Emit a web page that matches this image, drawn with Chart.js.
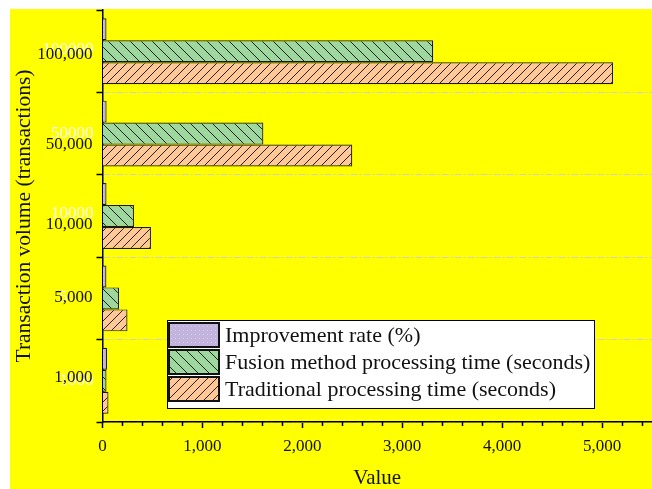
<!DOCTYPE html>
<html>
<head>
<meta charset="utf-8" />
<title>Transaction volume</title>
<script src="https://cdn.jsdelivr.net/npm/chart.js@4.4.0/dist/chart.umd.min.js"></script>
<style>
  body { margin: 0; background: #fff; }
  #wrap { position: absolute; left: 10px; top: 9px; width: 642px; height: 480px; background: #ffff00; }
</style>
</head>
<body>
<div id="wrap"><canvas id="chart" width="642" height="480"></canvas></div>
<script>
// data, top to bottom as drawn
const categories = ['100,000', '50,000', '10,000', '5,000', '1,000'];
const improvementRate = [40, 41, 40, 39, 45];
const fusionTime = [3310, 1610, 315, 165, 40];
const traditionalTime = [5110, 2500, 485, 250, 60];
const ghostLabels = ['100000', '50000', '10000', '5', '1000'];
const xTickValues = [0, 1000, 2000, 3000, 4000, 5000];
const seriesNames = ['Improvement rate (%)', 'Fusion method processing time (seconds)', 'Traditional processing time (seconds)'];

const serif = "'Liberation Serif', 'Times New Roman', serif";
Chart.defaults.font.family = serif;
Chart.defaults.color = '#111';

function hatch(bg, dir, size) {
  const c = document.createElement('canvas');
  c.width = c.height = size;
  const g = c.getContext('2d');
  g.fillStyle = bg;
  g.fillRect(0, 0, size, size);
  g.strokeStyle = '#222';
  g.lineWidth = 1;
  g.beginPath();
  if (dir === '/') {
    g.moveTo(0, size); g.lineTo(size, 0);
    g.moveTo(-1, 1); g.lineTo(1, -1);
    g.moveTo(size - 1, size + 1); g.lineTo(size + 1, size - 1);
  } else if (dir === '\\') {
    g.moveTo(0, 0); g.lineTo(size, size);
    g.moveTo(size - 1, -1); g.lineTo(size + 1, 1);
    g.moveTo(-1, size - 1); g.lineTo(1, size + 1);
  }
  g.stroke();
  return g.createPattern(c, 'repeat');
}
function dots(bg, dot) {
  const c = document.createElement('canvas');
  c.width = c.height = 4;
  const g = c.getContext('2d');
  g.fillStyle = bg; g.fillRect(0, 0, 4, 4);
  g.fillStyle = dot; g.fillRect(1, 1, 1, 1);
  return g.createPattern(c, 'repeat');
}

const purpleFill = dots('#c2b4dc', '#d6cce9');
const greenFill = hatch('#9fd89f', '\\', 11);
const orangeFill = hatch('#ffc896', '/', 9);
const fills = [purpleFill, greenFill, orangeFill];

// extras: y labels (with their odd offsets + white ghosts), minor ticks, inner legend
const extras = {
  id: 'extras',
  beforeDraw(chart) {
    const ctx = chart.ctx, y = chart.scales.y;
    const ghostShift = [-2, 0, -2, -1, 0];
    const labelShift = [3, 11, 9, -1, -3];
    ctx.save();
    ctx.font = '17px ' + serif;
    ctx.textAlign = 'right';
    ctx.textBaseline = 'middle';
    ghostLabels.forEach((t, i) => {
      const x = i === 3 ? y.right - 35 : y.right - 9;
      ctx.fillStyle = 'rgba(255,255,255,0.95)';
      ctx.fillText(t, x, y.getPixelForValue(i) + ghostShift[i]);
    });
    categories.forEach((t, i) => {
      ctx.fillStyle = '#111';
      ctx.fillText(t, y.right - 10, y.getPixelForValue(i) + labelShift[i]);
    });
    ctx.restore();
  },
  afterDraw(chart) {
    const ctx = chart.ctx, x = chart.scales.x;
    ctx.save();
    ctx.strokeStyle = '#000';
    ctx.lineWidth = 1.5;
    for (let v = 200; v <= 5400; v += 200) {
      if (v % 1000 === 0) continue;
      const px = Math.round(x.getPixelForValue(v)) + 0.5;
      ctx.beginPath();
      ctx.moveTo(px, x.top);
      ctx.lineTo(px, x.top + 4);
      ctx.stroke();
    }
    // legend box
    const bx = 157, by = 311, bw = 427, bh = 88;
    ctx.fillStyle = '#fff';
    ctx.fillRect(bx, by, bw, bh);
    ctx.strokeStyle = '#000';
    ctx.lineWidth = 1;
    ctx.strokeRect(bx + 0.5, by + 0.5, bw, bh);
    ctx.font = '22px ' + serif;
    ctx.textBaseline = 'middle';
    ctx.textAlign = 'left';
    seriesNames.forEach((name, i) => {
      const sy = by + 3 + i * 27;
      ctx.fillStyle = fills[i];
      ctx.fillRect(bx + 2, sy, 50, 24);
      ctx.lineWidth = 2;
      ctx.strokeStyle = '#111';
      ctx.strokeRect(bx + 2, sy, 50, 24);
      ctx.fillStyle = '#111';
      ctx.fillText(name, bx + 58, sy + 13);
    });
    ctx.restore();
  }
};

new Chart(document.getElementById('chart'), {
  type: 'bar',
  data: {
    labels: categories,
    datasets: [
      { label: seriesNames[0], data: improvementRate, backgroundColor: purpleFill },
      { label: seriesNames[1], data: fusionTime, backgroundColor: greenFill },
      { label: seriesNames[2], data: traditionalTime, backgroundColor: orangeFill }
    ]
  },
  options: {
    indexAxis: 'y',
    responsive: false,
    animation: false,
    events: [],
    layout: { padding: { top: 1, right: 0, left: 0, bottom: 0 } },
    datasets: {
      bar: { borderColor: '#1a1a1a', borderWidth: 1.2, barPercentage: 1, categoryPercentage: 0.8 }
    },
    plugins: { legend: { display: false }, tooltip: { enabled: false } },
    scales: {
      x: {
        min: 0,
        max: 5500,
        afterFit(s) { s.height = 67; s.paddingLeft = 0; s.paddingRight = 0; },
        afterBuildTicks(s) { s.ticks = xTickValues.map(v => ({ value: v })); },
        ticks: {
          padding: 8,
          font: { size: 17 },
          color: '#111',
          autoSkip: false,
          maxRotation: 0,
          callback: v => v.toLocaleString('en-US')
        },
        grid: { drawOnChartArea: false, tickLength: 6, tickColor: '#000', tickWidth: 1.5 },
        border: { color: '#000', width: 1.5 },
        title: { display: true, text: 'Value', font: { size: 21 }, color: '#111', padding: { top: 0, bottom: -2 } }
      },
      y: {
        afterFit(s) { s.width = 92.5; s.paddingTop = 0; s.paddingBottom = 0; },
        ticks: { display: false },
        grid: {
          color: c => c.index === 0 ? 'rgba(0,0,0,0)' : 'rgba(205,205,205,0.95)',
          lineWidth: 1,
          tickLength: 6,
          tickColor: '#000',
          tickWidth: 1.5
        },
        border: { color: '#000', width: 1.5, dash: [7, 2, 2, 2] },
        title: { display: true, text: 'Transaction volume (transactions)', font: { size: 21.5 }, color: '#111', padding: { top: 1, bottom: 0 } }
      }
    }
  },
  plugins: [extras]
});
</script>
</body>
</html>
